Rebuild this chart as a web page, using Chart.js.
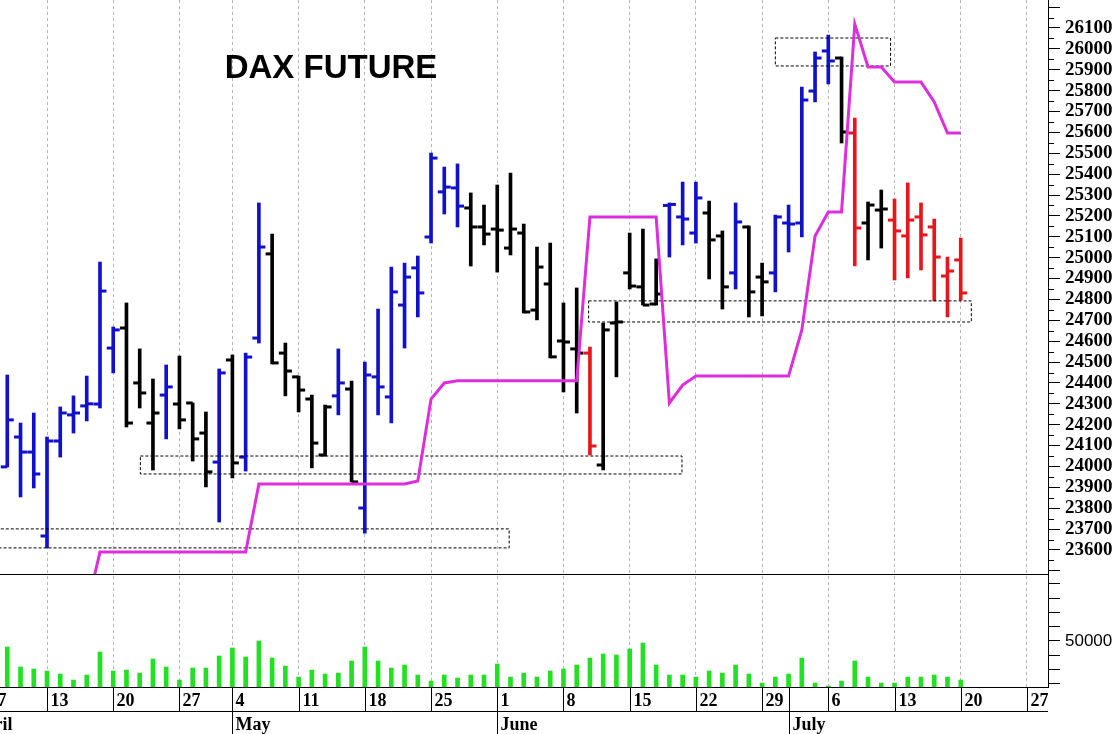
<!DOCTYPE html>
<html>
<head>
<meta charset="utf-8">
<title>DAX Future</title>
<script src="https://cdn.jsdelivr.net/npm/chart.js@4.4.1/dist/chart.umd.min.js"></script>
<style>
  html, body { margin: 0; padding: 0; background: #fff; }
  #chart { display: block; }
</style>
</head>
<body>
<canvas id="chart" width="1119" height="734"></canvas>
<script>
// daily sessions, index 1 = Wed 8 April ... index 73 = Mon 20 July (index 0 = Tue 7 April)
const opens = [
  23998, 24141, 24069,
  23667, 24122, 24247, 24290, 24299,
  24567, 24663, 24400, 24208, 24342,
  24299, 24304, 24160, 24021,
  24510, 24045, 24615, 25018, 24543,
  24429, 24323, 24055, 24338, 24371,
  23801, 24429, 24333, 24773, 24951,
  25099, 25315, 25334, 25238, 25147,
  25137, 25046, 25118, 24749, 24874,
  24601, 24563, 24543, 24007, 24687,
  24927, 24860, 24778, 25250, 25195,
  25118, 25214, 25104, 24927, 25147,
  24907, 24927, 25166, 25166, 25798,
  25990, 25956, 25597, 25166, 25228,
  25180, 25104, 25195, 25147, 24912,
  24989
];
const highs = [
  24438, 24208, 24256,
  24141, 24285, 24338, 24433, 24979,
  24668, 24783, 24563, 24419, 24486,
  24529, 24304, 24261, 24467,
  24534, 24543, 25262, 25113, 24591,
  24433, 24342, 24294, 24563, 24409,
  24500, 24754, 24955, 24974, 25008,
  25501, 25434, 25449, 25310, 25252,
  25348, 25405, 25161, 25051, 25070,
  24783, 24855, 24572, 24687, 24788,
  25118, 25137, 24994, 25262, 25362,
  25362, 25271, 25128, 25262, 25152,
  24974, 25204, 25252, 25817, 25985,
  26066, 25961, 25669, 25267, 25324,
  25281, 25358, 25262, 25185, 25003,
  25094
];
const lows = [
  23998, 23854, 23897,
  23610, 24045, 24160, 24218, 24280,
  24448, 24189, 24280, 23983, 24132,
  24180, 24026, 23902, 23734,
  23945, 23978, 24591, 24491, 24338,
  24261, 23993, 24050, 24247, 23926,
  23681, 24247, 24208, 24567, 24716,
  25070, 25209, 25147, 24960, 25061,
  24931, 25013, 24735, 24702, 24520,
  24357, 24256, 24055, 23983, 24429,
  24850, 24773, 24773, 25003, 25061,
  25070, 24898, 24754, 24850, 24716,
  24721, 24836, 25027, 25099, 25746,
  25832, 25549, 24960, 24989, 25046,
  24893, 24903, 24941, 24793, 24716,
  24797
];
const closes = [
  24223, 24069, 23964,
  24122, 24256, 24256, 24300, 24840,
  24654, 24208, 24352, 24256, 24381,
  24223, 24132, 23974, 24448,
  24017, 24524, 25051, 24496, 24457,
  24366, 24112, 24285, 24400, 23926,
  24438, 24381, 24836, 24907, 24831,
  25477, 25338, 25247, 25147, 25113,
  25132, 25137, 24740, 24955, 24525,
  24596, 24543, 24098, 24654, 24692,
  24864, 24773, 24826, 25255, 25185,
  25286, 25085, 24860, 25171, 24836,
  24884, 25195, 25161, 25755, 25956,
  25942, 25602, 25142, 25252, 25233,
  25128, 25180, 25109, 25003, 24936,
  24831
];
// B = blue (up trend), K = black (neutral), R = red (down trend)
const trend = 'BBB BBBBB BKKKB KKKB KBBKK KKKBK BBBBB BBBKK KKKKK KKRKK KKKBB BKKBK KBBBB BKRKK RRRRR R'
  .replace(/ /g, '').split('');
const volume = [
  45800, 31800, 30400,
  29000, 26900, 22700, 26200, 42300,
  29000, 29700, 27600, 37400, 31800,
  22700, 31100, 31100, 39500,
  45100, 38800, 50000, 38100, 32500,
  24800, 29700, 26900, 27600, 36000,
  45800, 36000, 31100, 33200, 26200,
  22000, 26200, 24100, 26200, 26200,
  33900, 24800, 27600, 24800, 29000,
  30400, 33200, 38100, 40900, 40200,
  44400, 48600, 33200, 26200, 26200,
  24800, 29000, 27600, 33200, 26900,
  20600, 24800, 26900, 38100, 20600,
  18500, 22000, 36000, 24800, 20600,
  20600, 24800, 24800, 26200, 24800,
  22700
];
const stopLine = [
  null, null, null,
  null, null, null, 23320, 23590,
  23590, 23590, 23590, 23590, 23590,
  23590, 23590, 23590, 23590,
  23590, 23590, 23916, 23916, 23916,
  23916, 23916, 23916, 23916, 23916,
  23916, 23916, 23916, 23916, 23930,
  24323, 24400, 24410, 24410, 24410,
  24410, 24410, 24410, 24410, 24410,
  24410, 24410, 25195, 25195, 25195,
  25195, 25195, 25195, 24304, 24390,
  24433, 24433, 24433, 24433, 24433,
  24433, 24433, 24433, 24654, 25104,
  25219, 25219, 26119, 25913, 25913,
  25841, 25841, 25841, 25746, 25597,
  25597
];

// dashed zones (session index from/to, price top/bottom)
const zoneFrom   = [-1,    11.05, 44.9,  59.0];
const zoneTo     = [38.9,  51.95, 73.8,  67.7];
const zoneTop    = [23701, 24050, 24793, 26052];
const zoneBottom = [23610, 23964, 24692, 25918];

// axis labels
const weekIdx    = [0, 4, 9, 14, 18, 23, 28, 33, 38, 43, 48, 53, 58, 63, 68, 73, 78];
const weekLabels = ['7', '13', '20', '27', '4', '11', '18', '25', '1', '8', '15', '22', '29', '6', '13', '20', '27'];
const monthIdx    = [-2, 18, 38, 60];
const monthLabels = ['April', 'May', 'June', 'July'];
const priceLabelMin = 23600;
const priceLabelMax = 26100;
const volumeTicks  = [20000, 30000, 40000, 50000, 60000, 70000, 80000, 90000];
const volumeLabels = [50000];

const trendColors = { B: '#1111cc', K: '#000000', R: '#e8161a' };
const serif = 'Liberation Serif';

const priceTicks = [];
for (let v = 23500; v <= 26200; v += 50) priceTicks.push(v);

const ohlcRange = highs.map((h, i) => ({ x: i + 1, y: [lows[i], h] }));
const volumeData = volume.map((v, i) => ({ x: i + 1, y: v }));
const stopData = stopLine.map((v, i) => ({ x: i + 1, y: v }));

const zoneSets = zoneFrom.map((from, i) => ({
  type: 'line',
  yAxisID: 'y',
  data: [
    { x: from, y: zoneTop[i] }, { x: zoneTo[i], y: zoneTop[i] },
    { x: zoneTo[i], y: zoneBottom[i] }, { x: from, y: zoneBottom[i] },
    { x: from, y: zoneTop[i] }
  ],
  borderColor: '#000',
  borderWidth: 1,
  borderDash: [3, 2],
  pointRadius: 0,
  fill: false,
  tension: 0
}));

const OHLC_INDEX = 1 + zoneSets.length;

const noPadding = s => {
  s.paddingTop = 0;
  s.paddingBottom = 0;
  s.paddingLeft = 0;
  s.paddingRight = 0;
};

// open/close ticks + clipping of price datasets to the upper pane
const pricePane = {
  id: 'pricePane',
  beforeDatasetDraw(chart, args) {
    if (args.meta.yAxisID !== 'y') return;
    const { ctx, chartArea } = chart;
    const ys = chart.scales.y;
    ctx.save();
    ctx.beginPath();
    ctx.rect(chartArea.left, ys.top, chartArea.right - chartArea.left, ys.bottom - ys.top);
    ctx.clip();
  },
  afterDatasetDraw(chart, args) {
    if (args.meta.yAxisID !== 'y') return;
    const { ctx } = chart;
    if (args.index === OHLC_INDEX) {
      const ys = chart.scales.y;
      args.meta.data.forEach((bar, i) => {
        ctx.fillStyle = trendColors[trend[i]];
        const yo = ys.getPixelForValue(opens[i]);
        const yc = ys.getPixelForValue(closes[i]);
        ctx.fillRect(bar.x - 6.5, yo - 1.5, 6.5, 3);
        ctx.fillRect(bar.x, yc - 1.5, 6.5, 3);
      });
    }
    ctx.restore();
  }
};

// title, pane divider, minor ticks and the two-row date axis
const decorations = {
  id: 'decorations',
  afterDraw(chart) {
    const { ctx, chartArea } = chart;
    const xs = chart.scales.x;
    const ys = chart.scales.y;
    ctx.save();
    ctx.strokeStyle = '#000';
    ctx.lineWidth = 1;

    const hline = (x0, x1, y) => {
      ctx.beginPath(); ctx.moveTo(x0, y); ctx.lineTo(x1, y); ctx.stroke();
    };
    const vline = (x, y0, y1) => {
      ctx.beginPath(); ctx.moveTo(x, y0); ctx.lineTo(x, y1); ctx.stroke();
    };

    hline(chartArea.left, chartArea.right, Math.round(ys.bottom) + 0.5);

    priceTicks.filter(v => v % 100 !== 0).forEach(v => {
      const y = Math.round(ys.getPixelForValue(v)) + 0.5;
      hline(ys.left, ys.left + 6, y);
    });

    const top = Math.round(xs.top) + 0.5;
    const mid = top + 24;
    hline(chartArea.left, chartArea.right, top);
    hline(chartArea.left, chartArea.right, mid);

    ctx.fillStyle = '#000';
    ctx.font = 'bold 18px "' + serif + '"';
    ctx.textAlign = 'left';
    ctx.textBaseline = 'alphabetic';
    weekIdx.forEach((k, i) => {
      const x = Math.round(xs.getPixelForValue(k)) + 0.5;
      if (x > chartArea.right) return;
      vline(x, top, mid);
      ctx.fillText(weekLabels[i], x + 3, top + 18);
    });
    monthIdx.forEach((k, i) => {
      const x = Math.round(xs.getPixelForValue(k)) + 0.5;
      vline(x, top, chart.height);
      ctx.fillText(monthLabels[i], x + 3, mid + 18.5);
    });

    ctx.font = 'bold 33px "Liberation Sans"';
    ctx.textAlign = 'center';
    ctx.fillText('DAX FUTURE', 331, 78);
    ctx.restore();
  }
};

new Chart(document.getElementById('chart'), {
  type: 'bar',
  data: {
    datasets: [
      {
        type: 'line',
        yAxisID: 'y',
        data: stopData,
        borderColor: '#dc2edc',
        borderWidth: 3,
        pointRadius: 0,
        fill: false,
        tension: 0,
        spanGaps: false
      },
      ...zoneSets,
      {
        type: 'bar',
        yAxisID: 'y',
        data: ohlcRange,
        backgroundColor: trend.map(t => trendColors[t]),
        borderWidth: 0,
        borderSkipped: false,
        barThickness: 3,
        grouped: false
      },
      {
        type: 'bar',
        yAxisID: 'v',
        data: volumeData,
        backgroundColor: '#22e022',
        borderWidth: 0,
        barThickness: 4,
        grouped: false
      }
    ]
  },
  options: {
    responsive: false,
    devicePixelRatio: 1,
    animation: false,
    layout: { padding: 0 },
    plugins: {
      legend: { display: false },
      tooltip: { enabled: false },
      title: { display: false }
    },
    scales: {
      x: {
        type: 'linear',
        min: 0.45,
        max: 79.59,
        offset: false,
        afterBuildTicks: s => {
          s.ticks = weekIdx.filter(v => v > s.min && v < s.max).map(v => ({ value: v }));
        },
        afterFit: s => { s.height = 47; noPadding(s); },
        grid: { color: '#b4b4b4', lineWidth: 1, drawTicks: false, offset: false },
        border: { display: false, dash: [3, 3] },
        ticks: { display: false }
      },
      y: {
        type: 'linear',
        position: 'right',
        stack: 'panes',
        stackWeight: 574,
        min: 23485,
        max: 26234,
        afterBuildTicks: s => { s.ticks = priceTicks.map(v => ({ value: v })); },
        afterFit: s => { s.width = 71; noPadding(s); },
        grid: {
          drawOnChartArea: false,
          drawTicks: true,
          tickLength: 12,
          tickWidth: 1,
          tickColor: c => (c.tick && c.tick.value % 100 === 0) ? '#000' : 'rgba(0,0,0,0)'
        },
        border: { display: true, color: '#000', width: 1 },
        ticks: {
          autoSkip: false,
          padding: 5,
          color: '#000',
          font: { family: serif, size: 19, weight: 'bold' },
          callback: v => (v % 100 === 0 && v >= priceLabelMin && v <= priceLabelMax) ? String(v) : ''
        }
      },
      v: {
        type: 'linear',
        position: 'right',
        stack: 'panes',
        stackWeight: 113,
        min: 17830,
        max: 96850,
        afterBuildTicks: s => { s.ticks = volumeTicks.map(v => ({ value: v })); },
        afterFit: s => { s.width = 71; noPadding(s); },
        grid: { drawOnChartArea: false, drawTicks: true, tickLength: 12, tickColor: '#000' },
        border: { display: true, color: '#000', width: 1 },
        ticks: {
          autoSkip: false,
          padding: 5,
          color: '#000',
          font: { family: 'Liberation Sans', size: 17 },
          callback: v => volumeLabels.includes(v) ? String(v) : ''
        }
      }
    }
  },
  plugins: [pricePane, decorations]
});
</script>
</body>
</html>
